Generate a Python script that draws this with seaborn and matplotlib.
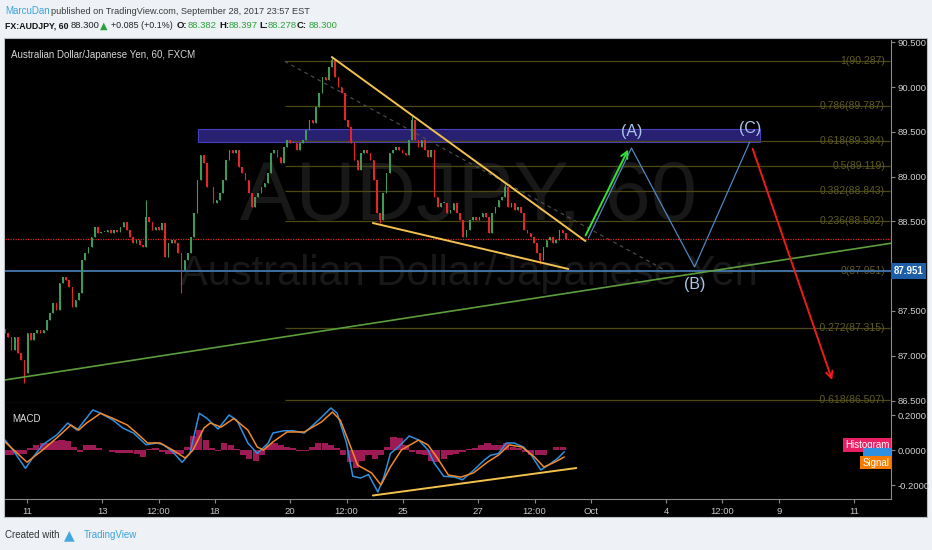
import numpy as np
import pandas as pd
import matplotlib
matplotlib.use("Agg")
import matplotlib.pyplot as plt
import seaborn as sns
from matplotlib.patches import Rectangle
from matplotlib.ticker import FuncFormatter

# hourly AUDJPY closes, roughly one every 2 bars (Sep 11 -> Sep 28)
closes = [
    87.25, 87.21, 87.07, 87.21, 87.03, 86.95, 86.81, 87.25, 87.18, 87.25,
    87.29, 87.25, 87.29, 87.40, 87.48, 87.59, 87.51, 87.81, 87.88, 87.85,
    87.77, 87.55, 87.62, 87.70, 88.07, 88.15, 88.21, 88.33, 88.44, 88.37,
    88.38, 88.38, 88.40, 88.37, 88.40, 88.38, 88.44, 88.49, 88.40, 88.33,
    88.26, 88.29, 88.24, 88.21, 88.55, 88.49, 88.40, 88.44, 88.40, 88.48,
    88.10, 88.26, 88.29, 88.26, 88.15, 87.96, 88.07, 88.15, 88.33, 88.59,
    88.96, 89.24, 89.15, 88.88, 88.88, 88.71, 88.74, 88.82, 88.96, 89.19,
    89.30, 89.26, 89.30, 89.11, 89.04, 88.96, 88.82, 88.66, 88.77, 88.82,
    88.88, 88.93, 89.04, 89.26, 89.30, 89.22, 89.15, 89.33, 89.41, 89.38,
    89.38, 89.30, 89.38, 89.41, 89.52, 89.63, 89.60, 89.78, 89.93,
    90.11, 90.08, 90.22, 90.30, 90.11, 90.00, 89.93, 89.63, 89.55, 89.38,
    89.19, 89.07, 89.26, 89.30, 89.26, 89.19, 88.96, 88.59, 88.52, 88.82,
    89.04, 89.26, 89.30, 89.33, 89.30, 89.26, 89.24, 89.41, 89.63, 89.41,
    89.33, 89.41, 89.30, 89.22, 89.30, 88.77, 88.66, 88.71, 88.71, 88.59,
    88.63, 88.71, 88.59, 88.52, 88.33, 88.40, 88.52, 88.55, 88.52, 88.55,
    88.59, 88.55, 88.37, 88.59, 88.66, 88.74, 88.77, 88.88, 88.66, 88.71,
    88.63, 88.66, 88.59, 88.40, 88.37, 88.33, 88.26, 88.15, 88.07, 88.21,
    88.29, 88.33, 88.26, 88.29, 88.40, 88.37, 88.30,
]
first_open = 87.30
first_bar, last_bar = -14, 344
# the longer wicks that stand out
wick_hi = {44: 88.74, 102: 90.34, 127: 89.68, 156: 88.92}
wick_lo = {6: 86.70, 55: 87.70, 117: 88.48, 167: 88.03}

# MACD panel (bar index, value)
macd_t = [-14, -9, -1, 4, 10, 19, 26, 32, 36, 42, 47, 55, 61, 68, 76, 83, 87, 93, 99, 104,
          110, 115, 122, 129, 134, 141, 147, 154, 157, 164, 170, 177, 186, 194, 198, 204, 208,
          213, 218, 224, 228, 232, 237, 244, 250, 256, 260, 266, 273, 278, 284, 292, 296, 301,
          306, 311, 317, 322, 328, 333, 339, 343]
macd_v = [0.057, 0.0, -0.105, -0.04, 0.03, 0.086, 0.154, 0.114, 0.16, 0.229, 0.21, 0.17, 0.126,
          0.097, 0.03, 0.04, 0.03, -0.01, -0.07, -0.02, 0.21, 0.18, 0.12, 0.20, 0.17, 0.04, -0.02,
          0.04, 0.097, 0.11, 0.11, 0.097, 0.17, 0.24, 0.21, 0.04, -0.15, -0.16, -0.14, -0.24,
          -0.15, -0.02, 0.017, 0.08, 0.057, 0.0, -0.075, -0.15, -0.155, -0.17, -0.125, -0.057,
          -0.03, -0.02, 0.04, 0.04, 0.017, -0.03, -0.114, -0.086, -0.046, -0.01]
signal_t = [-14, 0, 10, 19, 28, 33, 38, 47, 55, 64, 70, 77, 85, 93, 101, 106, 113, 117, 124,
            132, 141, 147, 151, 157, 166, 173, 177, 188, 195, 200, 205, 211, 220, 226, 232, 239,
            250, 256, 262, 269, 277, 285, 294, 301, 308, 316, 324, 330, 337, 343]
signal_v = [0.046, -0.07, 0.0, 0.069, 0.143, 0.114, 0.154, 0.21, 0.18, 0.143, 0.097, 0.04, 0.04,
            0.0, -0.046, 0.0, 0.126, 0.154, 0.131, 0.18, 0.114, 0.017, 0.0, 0.046, 0.103, 0.103,
            0.103, 0.16, 0.217, 0.17, 0.057, -0.086, -0.131, -0.2, -0.097, 0.0, 0.057, 0.029,
            -0.046, -0.143, -0.155, -0.131, -0.069, -0.029, 0.029, 0.017, -0.04, -0.097, -0.069,
            -0.04]
# histogram, one value every 4 bars from bar -14
hist_v = [-0.03, -0.03, -0.025, -0.02, 0.01, 0.03, 0.04, 0.04, 0.05, 0.057,
          0.05, 0.02, -0.01, 0.03, 0.03, 0.01, 0.0, -0.01, -0.015, -0.015,
          -0.015, -0.02, -0.04, 0.005, 0.01, -0.01, -0.02, -0.02, -0.02, 0.02,
          0.08, 0.114, 0.06, 0.01, -0.005, 0.04, 0.03, 0.005, -0.03, -0.05,
          -0.065, -0.03, 0.03, 0.04, 0.03, 0.02, 0.01, -0.005, -0.005, 0.02,
          0.04, 0.04, 0.03, 0.01, -0.03, -0.07, -0.1, -0.06, -0.03, -0.05,
          -0.03, 0.02, 0.076, 0.07, 0.03, -0.01, -0.02, -0.03, -0.06, -0.067,
          -0.05, -0.03, -0.02, -0.01, 0.005, 0.01, 0.03, 0.04, 0.03, 0.03,
          0.04, 0.02, 0.01, -0.01, -0.03, -0.03, -0.03, 0.0, 0.02, 0.02]

tick_pos = [0, 48, 84, 120, 168, 204, 240, 288, 324, 360, 408, 444, 480, 528]
tick_lbl = ["11", "13", "12:00", "18", "20", "12:00", "25", "27", "12:00", "Oct", "4", "12:00", "9", "11"]

fib_ratio = ["1", "0.786", "0.618", "0.5", "0.382", "0.236", "0", "-0.272", "-0.618"]
fib_price = [90.287, 89.787, 89.394, 89.119, 88.843, 88.502, 87.951, 87.315, 86.507]
fib_start, fib_end = 164.5, 551.0

wedge_top_t, wedge_top_p = [194.6, 356.5], [90.335, 88.281]
wedge_bot_t, wedge_bot_p = [220.8, 345.6], [88.482, 87.969]
trend_t, trend_p = [-14.1, 553.0], [86.73, 88.26]
fib_diag_t, fib_diag_p = [164.5, 407.7], [90.287, 87.951]
zone_t, zone_p = [109.4, 467.8], [89.39, 89.53]
support = 87.951
last_price = 88.300
wave_t, wave_p = [358.4, 385.9, 426.2, 461.4], [88.315, 89.319, 87.991, 89.386]
wave_lbl = ["(A)", "(B)", "(C)"]
up_t, up_p = [355.8, 384.6], [88.315, 89.33]
down_t, down_p = [462.7, 514.6], [89.34, 86.70]
div_t, div_v = [220.8, 350.7], [-0.26, -0.103]

W, H = 932, 550
sns.set_style("dark")
plt.rcParams["font.family"] = ["Liberation Sans", "DejaVu Sans"]

fig = plt.figure(figsize=(W / 100, H / 100), dpi=100)
fig.patch.set_facecolor("#eef1f5")


def fx(x):
    return x / W


def fy(y):
    return 1 - y / H


fig.add_artist(Rectangle((fx(4), fy(517)), fx(923), (517 - 38) / H, transform=fig.transFigure,
                         facecolor="black", edgecolor="#b9bec5", lw=0.8, zorder=0))

ax = fig.add_axes([fx(5), fy(403), fx(886), 363 / H])
ax2 = fig.add_axes([fx(5), fy(499), fx(886), 96 / H], sharex=ax)
for a in (ax, ax2):
    a.set_facecolor("black")
    a.grid(False)
    for s in ("top", "left"):
        a.spines[s].set_visible(False)
    for s in ("right", "bottom"):
        a.spines[s].set_color("#8a8a8a")
        a.spines[s].set_linewidth(0.8)
    a.yaxis.tick_right()
    a.tick_params(axis="y", colors="#8a8a8a", labelcolor="#d0d0d0", labelsize=6.8,
                  length=3, width=0.8, pad=2, right=True, left=False)

ax.set_xlim(-14.05, 551.6)
ax.set_ylim(86.473, 90.525)
ax2.set_ylim(-0.28, 0.2686)

# ---- candles ----
n = len(closes)
step = (last_bar - first_bar) / (n - 1)
t = first_bar + step * np.arange(n)
opens = [first_open] + closes[:-1]
df = pd.DataFrame({"t": t, "open": opens, "close": closes})
df["body_lo"] = df[["open", "close"]].min(axis=1)
df["hi"] = df[["open", "close"]].max(axis=1)
df["lo"] = df["body_lo"]
for i, v in wick_hi.items():
    df.loc[i, "hi"] = v
for i, v in wick_lo.items():
    df.loc[i, "lo"] = v
df["col"] = np.where(df["close"] >= df["open"], "#3f9a59", "#e3262c")
ax.vlines(df["t"], df["lo"], df["hi"], colors=df["col"], lw=0.8, zorder=4)
body = (df["close"] - df["open"]).abs().clip(lower=0.008)
ax.bar(df["t"], body, bottom=df["body_lo"], width=step * 0.5, color=df["col"], lw=0, zorder=4)

# ---- watermark ----
ax.text(0.523, 0.567, "AUDJPY, 60", transform=ax.transAxes, ha="center", va="center",
        fontsize=60, color="#181818", zorder=1)
ax.text(0.523, 0.355, "Australian Dollar/Japanese Yen", transform=ax.transAxes, ha="center",
        va="center", fontsize=30, color="#181818", zorder=1)
ax.text(0.007, 0.958, "Australian Dollar/Japanese Yen, 60, FXCM", transform=ax.transAxes,
        fontsize=7, color="#d6d6d6", va="center", zorder=8)

# ---- drawings ----
ax.add_patch(Rectangle((zone_t[0], zone_p[0]), zone_t[1] - zone_t[0], zone_p[1] - zone_p[0],
                       facecolor="#2b2277", edgecolor="#4b41c8", lw=0.8, alpha=0.95, zorder=2))
for r, p in zip(fib_ratio, fib_price):
    ax.hlines(p, fib_start, fib_end, color="#4d4917", lw=0.9, zorder=3)
    ax.text(547.8, p, f"{r}({p:.3f})", ha="right", va="center", fontsize=7.5,
            color="#5e5a22", zorder=3)
ax.plot(fib_diag_t, fib_diag_p, color="#4a4a4a", lw=0.9, ls=(0, (3, 3)), zorder=3)
ax.axhline(support, color="#3e6fa3", lw=1.4, zorder=3)
ax.axhline(last_price, color="#d9262b", lw=0.9, ls=(0, (1, 1)), zorder=3)
sns.lineplot(x=trend_t, y=trend_p, ax=ax, color="#5d9e3c", lw=1.2, zorder=5)
sns.lineplot(x=wedge_top_t, y=wedge_top_p, ax=ax, color="#f2c14e", lw=1.4, zorder=6)
sns.lineplot(x=wedge_bot_t, y=wedge_bot_p, ax=ax, color="#f2c14e", lw=1.4, zorder=6)
sns.lineplot(x=wave_t, y=wave_p, ax=ax, color="#4f86c0", lw=0.9, zorder=6)
ax.annotate("", xy=(up_t[1], up_p[1]), xytext=(up_t[0], up_p[0]), zorder=7,
            arrowprops=dict(arrowstyle="->", color="#35e035", lw=1.4, mutation_scale=12))
ax.annotate("", xy=(down_t[1], down_p[1]), xytext=(down_t[0], down_p[0]), zorder=7,
            arrowprops=dict(arrowstyle="->", color="#ee1b1b", lw=1.4, mutation_scale=12))
lbl_off = [0.18, -0.19, 0.15]
for k, s in enumerate(wave_lbl):
    ax.text(wave_t[k + 1], wave_p[k + 1] + lbl_off[k], s, ha="center", va="center",
            fontsize=11.5, color="#a9c6ea", zorder=8)

ax.set_yticks([86.5, 87.0, 87.5, 88.5, 89.0, 89.5, 90.0, 90.5])
ax.yaxis.set_major_formatter(FuncFormatter(lambda v, _: f"{v:.3f}"))
ax.tick_params(axis="x", bottom=False, labelbottom=False)
ax.annotate("87.951", xy=(1.0, support), xycoords=("axes fraction", "data"), xytext=(2, 0),
            textcoords="offset points", va="center", ha="left", fontsize=7, color="white",
            fontweight="bold", bbox=dict(boxstyle="square,pad=0.3", fc="#1d5ea6", ec="none"),
            annotation_clip=False, zorder=9)

# ---- MACD ----
hist_t = first_bar + 4 * np.arange(len(hist_v))
ax2.bar(hist_t, hist_v, width=3.9, color="#9e1a55", lw=0, zorder=2)
mdf = pd.concat([pd.DataFrame({"t": macd_t, "v": macd_v, "line": "MACD"}),
                 pd.DataFrame({"t": signal_t, "v": signal_v, "line": "Signal"})])
sns.lineplot(data=mdf, x="t", y="v", hue="line", palette={"MACD": "#2f8fe0", "Signal": "#f0892a"},
             lw=1.1, ax=ax2, legend=False, zorder=3)
sns.lineplot(x=div_t, y=div_v, ax=ax2, color="#f2c14e", lw=1.4, zorder=4)
ax2.set_xlabel("")
ax2.set_ylabel("")
ax.set_xlabel("")
ax.set_ylabel("")
ax2.set_yticks([-0.2, 0.0, 0.2])
ax2.yaxis.set_major_formatter(FuncFormatter(lambda v, _: f"{v:.4f}"))
ax2.set_xticks(tick_pos)
ax2.set_xticklabels(tick_lbl)
ax2.tick_params(axis="x", colors="#8a8a8a", labelcolor="#c8c8c8", labelsize=6.8, length=3,
                width=0.8, pad=3, bottom=True)
ax2.text(0.008, 0.83, "MACD", transform=ax2.transAxes, fontsize=7, color="#dcdcdc", va="center")
box = dict(boxstyle="square,pad=0.2", ec="none")
ax2.text(0.998, 0.56, "Histogram", transform=ax2.transAxes, ha="right", va="center", fontsize=7,
         color="white", bbox=dict(box, fc="#e91e63"), zorder=6)
ax2.text(0.998, 0.48, "MACD", transform=ax2.transAxes, ha="right", va="center", fontsize=6,
         color="#2f8fe0", bbox=dict(box, fc="#2f8fe0"), zorder=7)
ax2.text(0.998, 0.38, "Signal", transform=ax2.transAxes, ha="right", va="center", fontsize=7,
         color="white", bbox=dict(box, fc="#f57c00"), zorder=8)

# ---- header / footer ----
fig.text(fx(5), fy(11), "MarcuDan", color="#3aa4dc", fontsize=7, va="center")
fig.text(fx(51), fy(11), "published on TradingView.com, September 28, 2017 23:57 EST",
         color="#3a3a3a", fontsize=6.6, va="center")
hdr = [(5, "FX:AUDJPY, 60", "#111111", "bold", 6.3), (71, "88.300", "#222222", "normal", 6.8),
       (111, "+0.085 (+0.1%)", "#222222", "normal", 6.4), (177, "O:", "#111111", "bold", 6.8),
       (188, "88.382", "#2aa23a", "normal", 6.8), (219, "H:", "#111111", "bold", 6.8),
       (229, "88.397", "#2aa23a", "normal", 6.8), (259, "L:", "#111111", "bold", 6.8),
       (268, "88.278", "#2aa23a", "normal", 6.8), (297, "C:", "#111111", "bold", 6.8),
       (309, "88.300", "#2aa23a", "normal", 6.8)]
for x, s, c, w, fs in hdr:
    fig.text(fx(x), fy(26), s, color=c, fontsize=fs, fontweight=w, va="center")
fig.text(fx(100), fy(26), "\u25b2", color="#2aa23a", fontsize=7, va="center",
         family=["DejaVu Sans"])
fig.text(fx(5), fy(535), "Created with", color="#333333", fontsize=7, va="center")
fig.text(fx(64), fy(535), "\u25b2", color="#45a7e0", fontsize=10, va="center",
         family=["DejaVu Sans"])
fig.text(fx(84), fy(535), "TradingView", color="#3ba3d8", fontsize=7, va="center")

fig.savefig("out.png", dpi=100, facecolor=fig.get_facecolor())
